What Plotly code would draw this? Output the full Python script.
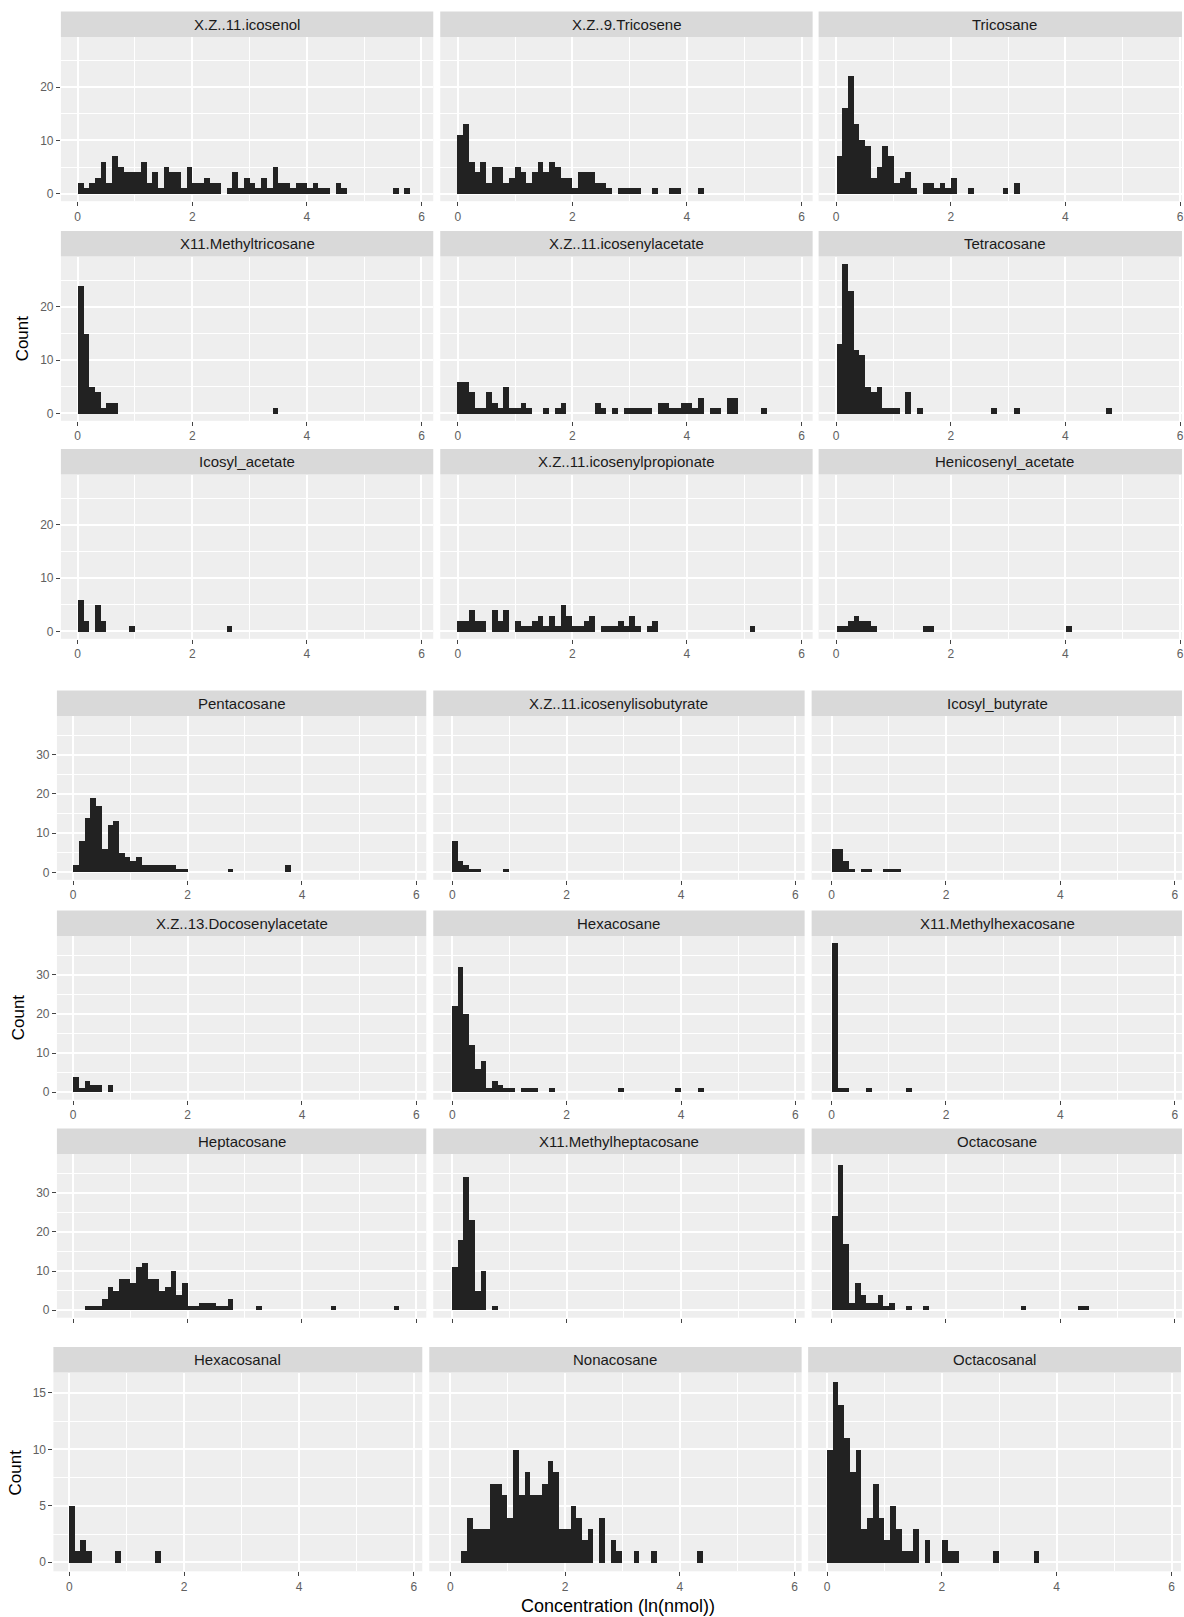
import plotly.graph_objects as go

# Histogram counts per 0.1-wide bin of ln(nmol); bin k covers [k*0.1, (k+1)*0.1)
BIN_WIDTH = 0.1

icosenol = [2, 1, 2, 3, 6, 2, 7, 5, 4, 4, 4, 6, 2, 4, 1, 5, 4, 4, 1, 5,
            2, 2, 3, 2, 2, 0, 1, 4, 1, 3, 2, 1, 3, 1, 5, 2, 2, 1, 2, 2,
            1, 2, 1, 1, 0, 2, 1, 0, 0, 0, 0, 0, 0, 0, 0, 1, 0, 1]
tricosene = [11, 13, 6, 4, 6, 2, 5, 5, 2, 3, 5, 4, 2, 4, 6, 4, 6, 5, 3, 3,
             1, 4, 4, 4, 2, 2, 1, 0, 1, 1, 1, 1, 0, 0, 1, 0, 0, 1, 1, 0,
             0, 0, 1]
tricosane = [7, 16, 22, 13, 10, 9, 3, 5, 9, 7, 2, 3, 4, 1, 0, 2, 2, 1, 2, 1,
             3, 0, 0, 1, 0, 0, 0, 0, 0, 1, 0, 2]
methyltricosane = [24, 15, 5, 4, 1, 2, 2, 0, 0, 0, 0, 0, 0, 0, 0, 0, 0, 0, 0, 0,
                   0, 0, 0, 0, 0, 0, 0, 0, 0, 0, 0, 0, 0, 0, 1]
icosenylacetate = [6, 6, 4, 1, 1, 4, 2, 1, 5, 1, 1, 2, 1, 0, 0, 1, 0, 1, 2, 0,
                   0, 0, 0, 0, 2, 1, 0, 1, 0, 1, 1, 1, 1, 1, 0, 2, 2, 1, 1, 2,
                   2, 1, 3, 0, 1, 1, 0, 3, 3, 0, 0, 0, 0, 1]
tetracosane = [13, 28, 23, 12, 11, 5, 4, 5, 1, 1, 1, 0, 4, 0, 1, 0, 0, 0, 0, 0,
               0, 0, 0, 0, 0, 0, 0, 1, 0, 0, 0, 1, 0, 0, 0, 0, 0, 0, 0, 0,
               0, 0, 0, 0, 0, 0, 0, 1]
icosyl_acetate = [6, 2, 0, 5, 2, 0, 0, 0, 0, 1, 0, 0, 0, 0, 0, 0, 0, 0, 0, 0,
                  0, 0, 0, 0, 0, 0, 1]
icosenylpropionate = [2, 2, 4, 2, 2, 0, 4, 2, 4, 0, 2, 1, 1, 2, 3, 1, 3, 1, 5, 3,
                      1, 1, 2, 3, 0, 1, 1, 1, 2, 1, 3, 1, 0, 1, 2, 0, 0, 0, 0, 0,
                      0, 0, 0, 0, 0, 0, 0, 0, 0, 0, 0, 1]
henicosenyl_acetate = [1, 1, 2, 3, 2, 2, 1, 0, 0, 0, 0, 0, 0, 0, 0, 1, 1, 0, 0, 0,
                       0, 0, 0, 0, 0, 0, 0, 0, 0, 0, 0, 0, 0, 0, 0, 0, 0, 0, 0, 0,
                       1]
pentacosane = [2, 8, 14, 19, 17, 6, 12, 13, 5, 4, 3, 4, 2, 2, 2, 2, 2, 2, 1, 1,
               0, 0, 0, 0, 0, 0, 0, 1, 0, 0, 0, 0, 0, 0, 0, 0, 0, 2]
icosenylisobutyrate = [8, 3, 2, 1, 1, 0, 0, 0, 0, 1]
icosyl_butyrate = [6, 6, 3, 1, 0, 1, 1, 0, 0, 1, 1, 1]
docosenylacetate = [4, 1, 3, 2, 2, 0, 2]
hexacosane = [22, 32, 20, 12, 6, 8, 1, 3, 2, 1, 1, 0, 1, 1, 1, 0, 0, 1, 0, 0,
              0, 0, 0, 0, 0, 0, 0, 0, 0, 1, 0, 0, 0, 0, 0, 0, 0, 0, 0, 1,
              0, 0, 0, 1]
methylhexacosane = [38, 1, 1, 0, 0, 0, 1, 0, 0, 0, 0, 0, 0, 1]
heptacosane = [0, 0, 1, 1, 1, 3, 6, 5, 8, 8, 7, 11, 12, 8, 8, 5, 6, 10, 4, 7,
               1, 1, 2, 2, 2, 1, 1, 3, 0, 0, 0, 0, 1, 0, 0, 0, 0, 0, 0, 0,
               0, 0, 0, 0, 0, 1, 0, 0, 0, 0, 0, 0, 0, 0, 0, 0, 1]
methylheptacosane = [11, 18, 34, 23, 5, 10, 0, 1]
octacosane = [24, 37, 17, 2, 7, 4, 2, 2, 4, 1, 2, 0, 0, 1, 0, 0, 1, 0, 0, 0,
              0, 0, 0, 0, 0, 0, 0, 0, 0, 0, 0, 0, 0, 1, 0, 0, 0, 0, 0, 0,
              0, 0, 0, 1, 1]
hexacosanal = [5, 1, 2, 1, 0, 0, 0, 0, 1, 0, 0, 0, 0, 0, 0, 1]
nonacosane = [0, 0, 1, 4, 3, 3, 3, 7, 7, 6, 4, 10, 6, 8, 6, 6, 7, 9, 8, 3,
              3, 5, 4, 2, 3, 0, 4, 0, 2, 1, 0, 0, 1, 0, 0, 1, 0, 0, 0, 0,
              0, 0, 0, 1]
octacosanal = [10, 16, 14, 11, 8, 10, 3, 4, 7, 4, 2, 5, 3, 1, 1, 3, 0, 2, 0, 0,
               2, 1, 1, 0, 0, 0, 0, 0, 0, 1, 0, 0, 0, 0, 0, 0, 1]

x_ticks = [0, 2, 4, 6]

# facet grids: (grid, row, col, strip label, counts)
panels = [
    (0, 0, 0, "X.Z..11.icosenol", icosenol),
    (0, 0, 1, "X.Z..9.Tricosene", tricosene),
    (0, 0, 2, "Tricosane", tricosane),
    (0, 1, 0, "X11.Methyltricosane", methyltricosane),
    (0, 1, 1, "X.Z..11.icosenylacetate", icosenylacetate),
    (0, 1, 2, "Tetracosane", tetracosane),
    (0, 2, 0, "Icosyl_acetate", icosyl_acetate),
    (0, 2, 1, "X.Z..11.icosenylpropionate", icosenylpropionate),
    (0, 2, 2, "Henicosenyl_acetate", henicosenyl_acetate),
    (1, 0, 0, "Pentacosane", pentacosane),
    (1, 0, 1, "X.Z..11.icosenylisobutyrate", icosenylisobutyrate),
    (1, 0, 2, "Icosyl_butyrate", icosyl_butyrate),
    (1, 1, 0, "X.Z..13.Docosenylacetate", docosenylacetate),
    (1, 1, 1, "Hexacosane", hexacosane),
    (1, 1, 2, "X11.Methylhexacosane", methylhexacosane),
    (1, 2, 0, "Heptacosane", heptacosane),
    (1, 2, 1, "X11.Methylheptacosane", methylheptacosane),
    (1, 2, 2, "Octacosane", octacosane),
    (2, 0, 0, "Hexacosanal", hexacosanal),
    (2, 0, 1, "Nonacosane", nonacosane),
    (2, 0, 2, "Octacosanal", octacosanal),
]

W, H = 1184, 1617
FONT = "Liberation Sans, Arial, sans-serif"
STRIP_H = 25.5

# pixel geometry of the three facet grids
grids = [
    dict(cols=[(61, 434, 77.8), (441, 814, 458.5), (820, 1193, 837.6)], scale=57.4,
         rows=[(37, 201.2), (256.6, 420.8), (474.6, 638.8)],
         yrange=[-1.4, 29.4], ydtick=10, yminor=5, title_x=22.5, show_xlabels=[True, True, True]),
    dict(cols=[(57, 427, 73.3), (434, 806, 453), (813, 1185, 833)], scale=57.3,
         rows=[(715.9, 879.8), (935.9, 1099.7), (1153.9, 1317.7)],
         yrange=[-1.9, 39.9], ydtick=10, yminor=5, title_x=18.5, show_xlabels=[True, True, False]),
    dict(cols=[(53.5, 423, 69.5), (430, 803, 451), (809.5, 1183, 828.5)], scale=57.5,
         rows=[(1372.6, 1571.3)],
         yrange=[-0.8, 16.8], ydtick=5, yminor=2.5, title_x=15.5, show_xlabels=[True]),
]

fig = go.Figure()
layout = dict(
    width=W, height=H, autosize=False,
    margin=dict(l=0, r=0, t=0, b=0),
    paper_bgcolor="white", plot_bgcolor="#eeeeee",
    showlegend=False, bargap=0,
    font=dict(family=FONT, color="#222222"),
)
shapes, annotations = [], []

for i, (g, r, c, label, counts) in enumerate(panels, start=1):
    grid = grids[g]
    left, right, zero_px = grid["cols"][c]
    top, bottom = grid["rows"][r]
    vis_right = min(right, W)
    sc = grid["scale"]
    xr = [(left - zero_px) / sc, (vis_right - zero_px) / sc]

    xs = [(k + 0.5) * BIN_WIDTH for k, v in enumerate(counts) if v > 0]
    ys = [v for v in counts if v > 0]
    fig.add_trace(go.Bar(
        x=xs, y=ys, width=BIN_WIDTH,
        marker=dict(color="#222222", line=dict(width=0)),
        xaxis=f"x{i}", yaxis=f"y{i}", hoverinfo="x+y",
    ))

    layout[f"xaxis{i}"] = dict(
        domain=[left / W, vis_right / W], range=xr, anchor=f"y{i}",
        tickmode="array", tickvals=x_ticks,
        ticks="outside", ticklen=4, tickwidth=1, tickcolor="#444444",
        showticklabels=grid["show_xlabels"][r], ticklabeloverflow="allow",
        tickfont=dict(size=12, color="#606060", family=FONT),
        showgrid=True, gridcolor="white", gridwidth=1.5,
        minor=dict(tickmode="array", tickvals=[1, 3, 5], showgrid=True,
                   gridcolor="white", gridwidth=0.7, ticks=""),
        zeroline=False, showline=False, fixedrange=True,
    )
    first = c == 0
    layout[f"yaxis{i}"] = dict(
        domain=[1 - bottom / H, 1 - top / H], range=grid["yrange"], anchor=f"x{i}",
        dtick=grid["ydtick"], tick0=0,
        ticks="outside" if first else "", ticklen=4, tickwidth=1, tickcolor="#444444",
        showticklabels=first,
        tickfont=dict(size=12, color="#606060", family=FONT),
        showgrid=True, gridcolor="white", gridwidth=1.5,
        minor=dict(dtick=grid["yminor"], tick0=0, showgrid=True,
                   gridcolor="white", gridwidth=0.7, ticks=""),
        zeroline=False, showline=False, fixedrange=True,
    )

    # facet strip
    shapes.append(dict(type="rect", xref="paper", yref="paper",
                       x0=left / W, x1=vis_right / W,
                       y0=1 - top / H, y1=1 - (top - STRIP_H) / H,
                       fillcolor="#d9d9d9", line=dict(width=0), layer="below"))
    annotations.append(dict(text=label, xref="paper", yref="paper",
                            x=(left + right) / 2 / W, y=1 - (top - STRIP_H / 2) / H,
                            xanchor="center", yanchor="middle", showarrow=False,
                            font=dict(size=15, color="#1a1a1a", family=FONT)))

# y-axis titles, one per grid
for grid in grids:
    tops = [t for t, b in grid["rows"]]
    bots = [b for t, b in grid["rows"]]
    yc = (min(tops) + max(bots)) / 2
    annotations.append(dict(text="Count", xref="paper", yref="paper",
                            x=grid["title_x"] / W, y=1 - yc / H, textangle=-90,
                            xanchor="center", yanchor="middle", showarrow=False,
                            font=dict(size=17, color="black", family=FONT)))

annotations.append(dict(text="Concentration (ln(nmol))", xref="paper", yref="paper",
                        x=619 / W, y=1 - 1606 / H, xanchor="center", yanchor="middle",
                        showarrow=False, font=dict(size=18, color="black", family=FONT)))

layout["shapes"] = shapes
layout["annotations"] = annotations
fig.update_layout(**layout)
fig.write_html("out.html")
